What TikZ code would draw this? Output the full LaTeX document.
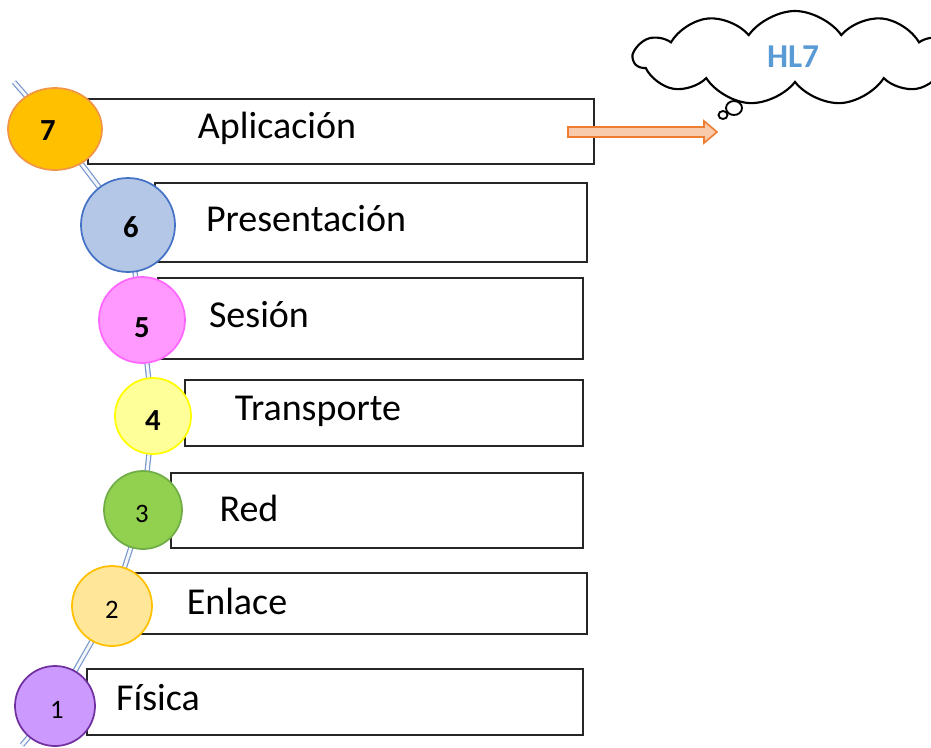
\documentclass[tikz,border=0pt]{standalone}
\usepackage{fontspec}
\setmainfont{Carlito}
\usetikzlibrary{shapes.symbols,shapes.geometric}
\newdimen\pxu \pxu=0.75pt
\definecolor{chainc}{RGB}{120,150,205}
\definecolor{c7f}{RGB}{255,192,0}\definecolor{c7d}{RGB}{240,150,70}
\definecolor{c6f}{RGB}{180,199,231}\definecolor{c6d}{RGB}{68,114,196}
\definecolor{c5f}{RGB}{255,153,255}\definecolor{c5d}{RGB}{255,102,255}
\definecolor{c4f}{RGB}{255,255,153}\definecolor{c4d}{RGB}{255,255,0}
\definecolor{c3f}{RGB}{146,208,80}\definecolor{c3d}{RGB}{112,173,71}
\definecolor{c2f}{RGB}{255,230,153}\definecolor{c2d}{RGB}{255,192,0}
\definecolor{c1f}{RGB}{204,153,255}\definecolor{c1d}{RGB}{112,48,160}
\definecolor{arrf}{RGB}{248,203,173}\definecolor{arrd}{RGB}{237,125,49}
\definecolor{hlc}{RGB}{91,155,213}
\tikzset{
  layerbox/.style={draw=black!85,line width=1.1pt,fill=white,rectangle,inner sep=0pt},
  layertxt/.style={font=\fontsize{28.5}{30}\selectfont,inner sep=0pt,anchor=center},
  numbig/.style={font=\fontsize{23}{25}\selectfont\bfseries,inner sep=0pt},
  numsmall/.style={font=\fontsize{20}{22}\selectfont,inner sep=0pt},
  disc/.style={circle,line width=1.3pt,inner sep=0pt},
  chain/.style={draw=chainc,line width=0.9pt,double=white!70!chainc!30,double distance=2.2pt}
}
\begin{document}
\begin{tikzpicture}[x=0.75pt,y=-0.75pt]
\useasboundingbox (0,0) rectangle (931,747);
% boxes
\node[layerbox,minimum width=506\pxu,minimum height=65\pxu] (b7) at (341,131.5) {};
\node[layerbox,minimum width=432\pxu,minimum height=79\pxu] (b6) at (371,222.5) {};
\node[layerbox,minimum width=425\pxu,minimum height=81\pxu] (b5) at (370.5,318.5) {};
\node[layerbox,minimum width=398\pxu,minimum height=66\pxu] (b4) at (384,413) {};
\node[layerbox,minimum width=412\pxu,minimum height=75\pxu] (b3) at (377,510.5) {};
\node[layerbox,minimum width=452\pxu,minimum height=61\pxu] (b2) at (361,603.5) {};
\node[layerbox,minimum width=496\pxu,minimum height=66\pxu] (b1) at (335,702) {};
\node[layertxt] (t7) at (277,128) {Aplicación};
\node[layertxt] (t6) at (306,219) {Presentación};
\node[layertxt] (t5) at (259,315) {Sesión};
\node[layertxt] (t4) at (318,411) {Transporte};
\node[layertxt] (t3) at (249,508) {Red};
\node[layertxt] (t2) at (237,601) {Enlace};
\node[layertxt] (t1) at (158,698) {Física};
% chain
\coordinate (top) at (14,82);
\coordinate (bot) at (22,745);
\coordinate (p7) at (55,129);
\coordinate (p6) at (128,225);
\coordinate (p5) at (142,320);
\coordinate (p4) at (153,416);
\coordinate (p3) at (143,510);
\coordinate (p2) at (112,606);
\coordinate (p1) at (55,706);
\draw[chain] (top) -- (p7) -- (p6) -- (p5) -- (p4) -- (p3) -- (p2) -- (p1) -- (bot);
% discs
\node[ellipse,line width=1.3pt,fill=c7f,draw=c7d,minimum width=94\pxu,minimum height=82\pxu,inner sep=0pt] (c7) at (p7) {};
\node[disc,fill=c6f,draw=c6d,minimum size=94\pxu] (c6) at (p6) {};
\node[disc,fill=c5f,draw=c5d,minimum size=86\pxu] (c5) at (p5) {};
\node[disc,fill=c4f,draw=c4d,minimum size=76\pxu] (c4) at (p4) {};
\node[disc,fill=c3f,draw=c3d,minimum size=78\pxu] (c3) at (p3) {};
\node[disc,fill=c2f,draw=c2d,minimum size=80\pxu] (c2) at (p2) {};
\node[disc,fill=c1f,draw=c1d,minimum size=80\pxu] (c1) at (p1) {};
\node[numbig] (n7) at (48,131) {7};
\node[numbig] (n6) at (131,227) {6};
\node[numbig] (n5) at (142,328) {5};
\node[numbig] (n4) at (153,421) {4};
\node[numsmall] (n3) at (142,514) {3};
\node[numsmall] (n2) at (112,610) {2};
\node[numsmall] (n1) at (57,710) {1};
% arrow
\draw[fill=arrf,draw=arrd,line width=1.2pt,line join=miter]
  (568,127) -- (704,127) -- (704,121) -- (717,132) -- (704,143) -- (704,137) -- (568,137) -- cycle;
% cloud
\begin{scope}
\clip (0,0) rectangle (931,747);
\node[cloud,cloud puffs=11,cloud puff arc=110,aspect=3.2,draw=black,line width=1.6pt,fill=white,minimum width=322\pxu,minimum height=94\pxu,inner sep=0pt] (cl) at (795,58) {};
\end{scope}
\node[font=\fontsize{25}{27}\selectfont\bfseries,text=hlc,inner sep=0pt] (hl) at (793,57) {HL7};
\node[ellipse,draw=black,line width=1.4pt,fill=white,minimum width=16\pxu,minimum height=14\pxu,inner sep=0pt] (bb1) at (734,108) {};
\node[ellipse,draw=black,line width=1.4pt,fill=white,minimum width=9\pxu,minimum height=8\pxu,inner sep=0pt] (bb2) at (723,115) {};
\end{tikzpicture}
\end{document}
